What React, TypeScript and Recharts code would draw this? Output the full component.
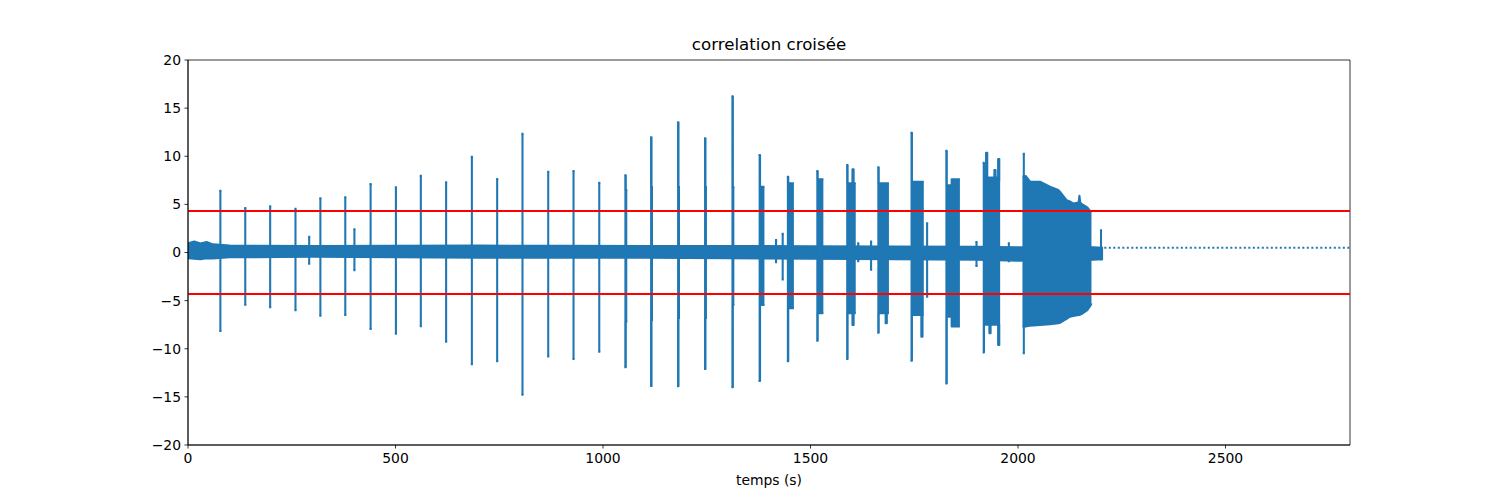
import { ComposedChart, Area, Line, XAxis, YAxis, ReferenceArea } from "recharts";

// quiet background band of the signal, read along time (s)
const baseT = [0, 15, 30, 45, 60, 100, 300, 500, 700, 900, 1100, 1300, 1500, 1700, 1900, 2000, 2180, 2205];
const baseHi = [0.95, 1.15, 0.95, 1.1, 0.85, 0.72, 0.68, 0.7, 0.72, 0.7, 0.68, 0.68, 0.65, 0.62, 0.6, 0.55, 0.55, 0.5];
const baseLo = [-0.6, -0.65, -0.7, -0.6, -0.62, -0.5, -0.45, -0.5, -0.55, -0.55, -0.55, -0.6, -0.65, -0.7, -0.75, -0.85, -0.75, -0.7];

// single narrow peaks: time, max, min
const spikeT = [78, 138, 198, 259, 292, 319, 379, 401, 440, 501, 561, 622, 684, 745, 806, 868, 929, 991, 1417, 1433, 1615, 1646, 1781, 1900, 1978, 2014, 2200];
const spikeHi = [6.42, 4.62, 4.8, 4.55, 1.64, 5.63, 5.73, 2.41, 7.12, 6.77, 7.98, 7.29, 9.95, 7.64, 12.35, 8.4, 8.47, 7.25, 1.3, 1.95, 0.95, 1.15, 3.03, 1.1, 0.95, 10.27, 2.3];
const spikeLo = [-8.16, -5.42, -5.7, -6.0, -1.16, -6.56, -6.49, -1.85, -7.95, -8.43, -7.67, -9.27, -11.6, -11.3, -14.77, -10.8, -11.06, -10.3, -1.0, -2.8, -0.9, -1.8, -4.6, -1.4, -0.9, -10.48, -0.7];

// wider bursts as contiguous segments: start, end, max, min
const segStart = [
  1051.5, 1055, 1113.5, 1117, 1178.5, 1182, 1243.5, 1247, 1309.5, 1313,
  1375, 1378.5, 1443, 1446.5, 1514, 1517.5,
  1586, 1589.5, 1601, 1604, 1661, 1664.5, 1681, 1684,
  1741, 1744.5, 1767, 1770, 1825, 1828.5, 1840,
  1915, 1918, 1923, 1926, 1931, 1934, 1943, 1946, 1952, 1955,
];
const segEnd = [
  1055, 1058.5, 1117, 1120.5, 1182, 1185.5, 1247, 1250.5, 1313, 1316.5,
  1378.5, 1389, 1446.5, 1460, 1517.5, 1531,
  1589.5, 1601, 1604, 1609, 1664.5, 1681, 1684, 1689,
  1744.5, 1767, 1770, 1773, 1828.5, 1840, 1860,
  1918, 1923, 1926, 1931, 1934, 1943, 1946, 1952, 1955, 1957,
];
const segHi = [
  8.02, 6.5, 11.97, 6.8, 13.52, 6.8, 11.86, 6.8, 16.23, 6.8,
  10.13, 6.84, 7.88, 7.19, 8.47, 7.6,
  9.09, 7.19, 8.64, 7.19, 8.85, 7.19, 7.19, 7.19,
  12.45, 7.36, 7.36, 7.36, 10.58, 7.0, 7.6,
  9.33, 8.0, 10.37, 7.8, 7.5, 7.8, 8.57, 7.8, 9.71, 7.5,
];
const segLo = [
  -11.93, -7.2, -13.87, -7.0, -13.9, -6.8, -12.1, -6.8, -14.0, -5.45,
  -13.35, -5.45, -11.3, -5.8, -9.16, -6.3,
  -11.06, -6.3, -7.53, -6.3, -8.33, -6.3, -7.36, -6.3,
  -11.24, -6.5, -8.75, -6.5, -13.6, -6.67, -7.7,
  -10.4, -7.5, -7.5, -7.5, -8.4, -7.5, -7.5, -7.5, -9.6, -7.5,
];

// long final burst, envelope read along time
const longT = [2011, 2019, 2029, 2053, 2077, 2097, 2101, 2117, 2125, 2133, 2146, 2148, 2150, 2153, 2167, 2175, 2177];
const longHi = [7.9, 7.95, 7.36, 7.36, 6.84, 6.5, 6.32, 5.45, 5.3, 5.1, 5.2, 5.9, 5.2, 5.04, 4.7, 4.24, 4.3];
const longLo = [-7.7, -7.7, -7.6, -7.53, -7.45, -7.36, -7.3, -6.9, -6.67, -6.6, -6.5, -6.5, -6.45, -6.4, -6.0, -5.5, -5.28];

// dotted continuation after the recording, and the detection thresholds
const tailT = [2208, 2800];
const tailY = [0.5, 0.5];
const threshold = 4.3;

const xTicks = [0, 500, 1000, 1500, 2000, 2500];
const yTicks = [-20, -15, -10, -5, 0, 5, 10, 15, 20];

const BLUE = "#1f77b4";
const SPIKE_HALF = 2.5;

type Row = {
  t: number;
  base?: [number, number];
  burst?: [number, number] | null;
  long?: [number, number];
  tail?: number;
  thrHi?: number;
  thrLo?: number;
};

const rows: Row[] = [];
baseT.forEach((t, i) => rows.push({ t, base: [baseLo[i], baseHi[i]] }));
spikeT.forEach((t, i) => {
  const v: [number, number] = [spikeLo[i], spikeHi[i]];
  rows.push({ t: t - SPIKE_HALF, burst: v });
  rows.push({ t: t + SPIKE_HALF, burst: v });
  rows.push({ t: t + SPIKE_HALF, burst: null });
});
segStart.forEach((s, i) => {
  const v: [number, number] = [segLo[i], segHi[i]];
  rows.push({ t: s, burst: v });
  rows.push({ t: segEnd[i], burst: v });
  if (i === segStart.length - 1 || segStart[i + 1] !== segEnd[i]) {
    rows.push({ t: segEnd[i], burst: null });
  }
});
longT.forEach((t, i) => rows.push({ t, long: [longLo[i], longHi[i]] }));
tailT.forEach((t, i) => rows.push({ t, tail: tailY[i] }));
rows.push({ t: 0, thrHi: threshold, thrLo: -threshold });
rows.push({ t: 2800, thrHi: threshold, thrLo: -threshold });

const tickStyle = { fill: "#000", fontSize: 13.9 };
const minus = (v: number) => String(v).replace("-", "\u2212");

const bandProps = {
  type: "linear" as const,
  stroke: BLUE,
  strokeWidth: 2,
  strokeLinejoin: "round" as const,
  fill: BLUE,
  fillOpacity: 1,
  dot: false,
  activeDot: false,
  isAnimationActive: false,
};

export default function App() {
  return (
    <div
      style={{
        position: "absolute",
        left: 0,
        top: 0,
        width: 1500,
        height: 500,
        background: "#fff",
        fontFamily: "DejaVu Sans",
      }}
    >
      <div
        style={{
          position: "absolute",
          left: 769,
          top: 35,
          transform: "translateX(-50%)",
          fontSize: 16.67,
          lineHeight: "20px",
          whiteSpace: "nowrap",
        }}
      >
        correlation croisée
      </div>
      <div
        style={{
          position: "absolute",
          left: 769,
          top: 472,
          transform: "translateX(-50%)",
          fontSize: 13.9,
          lineHeight: "17px",
          whiteSpace: "nowrap",
        }}
      >
        temps (s)
      </div>
      <ComposedChart
        width={1500}
        height={500}
        data={rows}
        margin={{ top: 60, right: 150, bottom: 0, left: 148 }}
      >
        <XAxis
          dataKey="t"
          type="number"
          domain={[0, 2800]}
          ticks={xTicks}
          allowDataOverflow
          height={55}
          tick={tickStyle}
          tickSize={3.5}
          tickMargin={5}
          tickLine={{ stroke: "#000", strokeWidth: 0.8 }}
          axisLine={{ stroke: "#000", strokeWidth: 0.8 }}
        />
        <YAxis
          type="number"
          domain={[-20, 20]}
          ticks={yTicks}
          allowDataOverflow
          width={40}
          tick={tickStyle}
          tickSize={3.5}
          tickMargin={3.5}
          tickFormatter={minus}
          tickLine={{ stroke: "#000", strokeWidth: 0.8 }}
          axisLine={{ stroke: "#000", strokeWidth: 0.8 }}
        />
        <Area dataKey="base" {...bandProps} />
        <Area dataKey="burst" {...bandProps} />
        <Area dataKey="long" {...bandProps} />
        <Line
          dataKey="tail"
          type="linear"
          stroke={BLUE}
          strokeWidth={2}
          strokeDasharray="2 2.5"
          dot={false}
          activeDot={false}
          isAnimationActive={false}
        />
        <Line
          dataKey="thrHi"
          type="linear"
          stroke="#ff0000"
          strokeWidth={2}
          dot={false}
          activeDot={false}
          isAnimationActive={false}
        />
        <Line
          dataKey="thrLo"
          type="linear"
          stroke="#ff0000"
          strokeWidth={2}
          dot={false}
          activeDot={false}
          isAnimationActive={false}
        />
        <ReferenceArea
          x1={0}
          x2={2800}
          y1={-20}
          y2={20}
          fill="none"
          stroke="#000"
          strokeWidth={0.8}
          ifOverflow="visible"
        />
      </ComposedChart>
    </div>
  );
}
